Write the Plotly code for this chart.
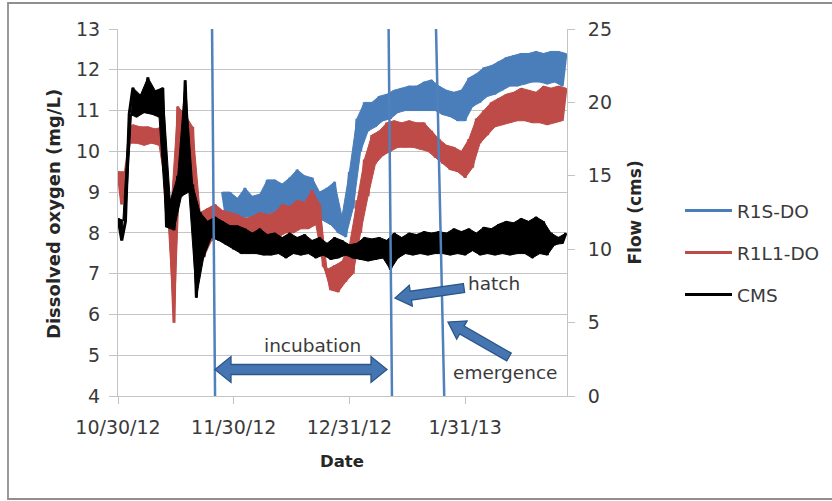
import math
import pandas as pd
import plotly.graph_objects as go

# ---------------- data ----------------
# Each series is a daily-cycling signal: upper envelope on even days, lower envelope on odd days.

# R1S-DO (mg/L)
r1s_start = "2012-11-27"
r1s_hi = [9.0, 9.0, 8.85, 9.1, 8.9, 8.95, 9.3, 9.3, 9.2, 9.35, 9.55, 9.4, 9.35, 9.0, 9.1, 9.25,
          8.4, 9.5, 10.8, 11.2, 11.2, 11.35, 11.4, 11.5, 11.55, 11.6, 11.6, 11.7, 11.75, 11.6,
          11.5, 11.45, 11.5, 11.8, 11.9, 12.05, 12.1, 12.2, 12.3, 12.35, 12.4, 12.4, 12.45,
          12.4, 12.45, 12.45, 12.4]
r1s_lo = [8.4, 8.4, 8.35, 8.4, 8.4, 8.4, 8.5, 8.5, 8.6, 8.6, 8.7, 8.7, 8.8, 8.3, 8.2, 8.0,
          7.9, 8.6, 10.0, 10.5, 10.6, 10.75, 10.8, 10.95, 11.0, 11.0, 11.0, 11.0, 11.0, 10.9,
          10.85, 10.75, 10.75, 11.1, 11.2, 11.35, 11.4, 11.5, 11.6, 11.6, 11.65, 11.7, 11.7,
          11.65, 11.7, 11.6]

# R1L1-DO (mg/L)
r1l1_start = "2012-10-30"
r1l1_hi = [9.5, 9.5, 10.65, 10.6, 10.6, 10.55, 10.6, 8.3, 11.1, 10.9, 10.6, 8.5, 8.6, 8.7,
           8.55, 8.5, 8.45, 8.35, 8.4, 8.5, 8.45, 8.5, 8.7, 8.65, 8.8, 8.75, 9.05, 8.7, 7.1,
           7.2, 7.3, 7.7, 8.8, 9.8, 10.4, 10.5, 10.7, 10.75, 10.7, 10.75, 10.7, 10.7, 10.5,
           10.3, 10.15, 10.1, 10.0, 10.3, 10.8, 11.0, 11.2, 11.3, 11.4, 11.45, 11.55, 11.5,
           11.45, 11.6, 11.55, 11.6, 11.55]
r1l1_lo = [8.7, 10.2, 10.2, 10.15, 10.2, 10.15, 9.0, 5.8, 10.5, 10.2, 7.5, 7.4, 7.8, 8.0,
           8.0, 7.95, 7.9, 7.9, 7.85, 7.9, 7.9, 7.9, 8.0, 8.0, 8.1, 8.1, 8.2, 7.2, 6.6, 6.55,
           6.8, 7.0, 8.0, 8.9, 9.7, 9.9, 10.0, 10.1, 10.1, 10.1, 10.05, 10.0, 9.85, 9.7, 9.55,
           9.5, 9.35, 9.6, 10.2, 10.4, 10.6, 10.65, 10.7, 10.75, 10.75, 10.7, 10.7, 10.65,
           10.7, 10.75]

# CMS flow (cms)
cms_start = "2012-10-30"
cms_hi = [12.1, 11.9, 21.0, 20.5, 21.7, 20.8, 21.0, 13.3, 15.0, 21.5, 14.4, 12.5, 11.9, 12.2,
          11.9, 11.6, 11.6, 11.4, 11.1, 11.4, 11.0, 11.1, 10.8, 11.1, 10.8, 11.0, 10.6, 10.8,
          10.4, 10.8, 10.6, 10.3, 10.4, 10.8, 10.7, 10.8, 10.6, 11.1, 10.8, 11.1, 11.0, 11.2,
          11.1, 11.2, 11.1, 11.4, 11.2, 11.4, 11.1, 11.5, 11.4, 11.7, 11.9, 11.8, 12.1, 11.9,
          12.2, 11.9, 11.1, 10.8, 11.1]
cms_lo = [10.6, 19.2, 19.0, 19.3, 19.2, 19.0, 11.5, 11.3, 13.6, 13.9, 6.7, 9.5, 10.8, 10.6,
          10.3, 10.0, 9.7, 9.7, 9.7, 9.6, 9.6, 9.7, 9.4, 9.7, 9.6, 9.7, 9.4, 9.6, 9.3, 9.4,
          9.6, 9.4, 9.3, 9.2, 9.3, 9.4, 8.6, 9.4, 9.7, 9.6, 9.7, 9.6, 9.7, 9.7, 9.6, 9.7, 9.6,
          9.9, 9.6, 9.7, 9.6, 9.7, 9.6, 9.7, 9.7, 9.4, 9.7, 9.6, 10.3, 10.4]

# life-stage markers (slightly slanted lines: date at top, date at bottom)
event_top = ["2012-11-24 04:48", "2013-01-10 12:00", "2013-01-23 04:48"]
event_bottom = ["2012-11-25 00:00", "2013-01-11 09:36", "2013-01-25 09:36"]

x_tickvals = ["2012-10-30", "2012-11-30", "2012-12-31", "2013-01-31"]
x_ticktext = ["10/30/12", "11/30/12", "12/31/12", "1/31/13"]
x_range = ["2012-10-30", "2013-02-27 07:00"]

# ---------------- helpers ----------------
def envelopes(start, hi, lo):
    t0 = pd.Timestamp(start)
    hi_t = t0 + pd.to_timedelta([2 * i for i in range(len(hi))], unit="D")
    lo_t = t0 + pd.to_timedelta([2 * i + 1 for i in range(len(lo))], unit="D")
    return list(hi_t), list(lo_t)

def zigzag(start, hi, lo):
    hi_t, lo_t = envelopes(start, hi, lo)
    xs, ys = [], []
    for i, h in enumerate(hi):
        xs.append(hi_t[i]); ys.append(h)
        if i < len(lo):
            xs.append(lo_t[i]); ys.append(lo[i])
    return xs, ys

def band(start, hi, lo):
    hi_t, lo_t = envelopes(start, hi, lo)
    return hi_t + lo_t[::-1], list(hi) + list(lo)[::-1]

# plot area in pixels
L, R, T, B = 118, 567, 29, 396
W, H = 832, 501

def paper(x, y):
    return ((x - L) / (R - L), (B - y) / (B - T))

def block_arrow(p0, p1, shaft, head_w, head_len, double=False):
    (x0, y0), (x1, y1) = p0, p1
    dx, dy = x1 - x0, y1 - y0
    n = math.hypot(dx, dy)
    ux, uy = dx / n, dy / n
    nx, ny = -uy, ux
    def pt(bx, by, a, b):
        return (bx + ux * a + nx * b, by + uy * a + ny * b)
    pts = []
    if double:
        pts.append((x0, y0))
        pts.append(pt(x0, y0, head_len, head_w / 2))
        pts.append(pt(x0, y0, head_len, shaft / 2))
    else:
        pts.append(pt(x0, y0, 0, shaft / 2))
    pts.append(pt(x1, y1, -head_len, shaft / 2))
    pts.append(pt(x1, y1, -head_len, head_w / 2))
    pts.append((x1, y1))
    pts.append(pt(x1, y1, -head_len, -head_w / 2))
    pts.append(pt(x1, y1, -head_len, -shaft / 2))
    if double:
        pts.append(pt(x0, y0, head_len, -shaft / 2))
        pts.append(pt(x0, y0, head_len, -head_w / 2))
    else:
        pts.append(pt(x0, y0, 0, -shaft / 2))
    s = ""
    for i, (px, py) in enumerate(pts):
        X, Y = paper(px, py)
        s += ("M" if i == 0 else "L") + f"{X:.5f},{Y:.5f} "
    return s + "Z"

FONT = "DejaVu Sans"
TXT = "#3a3a3a"
GRID = "#c4c4c4"
BLUE = "#4a7ebb"
RED = "#be4b48"

fig = go.Figure()

series = [
    ("R1S-DO", r1s_start, r1s_hi, r1s_lo, BLUE, "y", "legend"),
    ("R1L1-DO", r1l1_start, r1l1_hi, r1l1_lo, RED, "y", "legend2"),
    ("CMS", cms_start, cms_hi, cms_lo, "#000000", "y2", "legend3"),
]
for name, start, hi, lo, color, yax, leg in series:
    bx, by = band(start, hi, lo)
    fig.add_trace(go.Scatter(x=bx, y=by, mode="lines", fill="toself", fillcolor=color,
                             line=dict(color=color, width=1), yaxis=yax, showlegend=False,
                             hoverinfo="skip"))
    zx, zy = zigzag(start, hi, lo)
    fig.add_trace(go.Scatter(x=zx, y=zy, mode="lines", name=name, yaxis=yax,
                             line=dict(color=color, width=3), legend=leg))

shapes = []
# outer chart border
bx0, by0 = paper(8, 499)
bx1, by1 = paper(833, 3)
shapes.append(dict(type="rect", xref="paper", yref="paper", x0=bx0, y0=by0, x1=bx1, y1=by1,
                   line=dict(color="#8f8f8f", width=1.8), layer="below"))
# event lines
for t, b in zip(event_top, event_bottom):
    shapes.append(dict(type="line", xref="x", yref="y", x0=t, y0=13, x1=b, y1=4,
                       line=dict(color="#4f81bd", width=2.5)))
# block arrows
arrow_style = dict(type="path", xref="paper", yref="paper", fillcolor="#4676b2",
                   line=dict(color="#2b5689", width=1.3))
shapes.append(dict(path=block_arrow((215, 369.5), (387, 369.5), 10, 26, 16, double=True), **arrow_style))
shapes.append(dict(path=block_arrow((464, 288), (395, 298), 9, 21, 16), **arrow_style))
shapes.append(dict(path=block_arrow((509, 357), (448, 322), 9, 21, 16), **arrow_style))

annotations = []
def label(text, px, py, size=18.5, bold=False, angle=0):
    X, Y = paper(px, py)
    annotations.append(dict(text=f"<b>{text}</b>" if bold else text, x=X, y=Y,
                            xref="paper", yref="paper", showarrow=False, textangle=angle,
                            xanchor="center", yanchor="middle",
                            font=dict(family=FONT, size=size,
                                      color="#262626" if bold else TXT)))

label("incubation", 312, 345)
label("hatch", 494, 283)
label("emergence", 505, 372)
label("Dissolved oxygen (mg/L)", 53, 214, size=18, bold=True, angle=-90)
label("Flow (cms)", 634, 212.5, size=17, bold=True, angle=-90)
label("Date", 342, 461, size=16.5, bold=True)

def legend_at(py):
    X, Y = paper(680, py)
    return dict(x=X, y=Y, xanchor="left", yanchor="middle", bgcolor="rgba(0,0,0,0)",
                font=dict(family=FONT, size=18.5, color=TXT), itemwidth=47)

tickfont = dict(family=FONT, size=19, color=TXT)
fig.update_layout(
    width=W, height=H,
    margin=dict(l=L, r=W - R, t=T, b=H - B, autoexpand=False),
    paper_bgcolor="white", plot_bgcolor="white",
    showlegend=True,
    legend=legend_at(211), legend2=legend_at(253), legend3=legend_at(295),
    shapes=shapes, annotations=annotations,
    font=dict(family=FONT, size=18, color=TXT),
    xaxis=dict(type="date", range=x_range, tickvals=x_tickvals, ticktext=x_ticktext,
               showgrid=False, showline=True, linecolor=GRID, linewidth=1,
               ticks="outside", ticklen=7, tickcolor=GRID, zeroline=False,
               ticklabelstandoff=7, tickfont=tickfont),
    yaxis=dict(range=[4, 13], dtick=1, showgrid=True, gridcolor=GRID, gridwidth=1,
               showline=True, linecolor=GRID, ticks="outside", ticklen=8, tickcolor=GRID,
               zeroline=False, ticklabelstandoff=5, tickfont=tickfont),
    yaxis2=dict(range=[0, 25], dtick=5, overlaying="y", side="right", showgrid=False,
                showline=True, linecolor=GRID, ticks="outside", ticklen=7, tickcolor=GRID,
                zeroline=False, ticklabelstandoff=9, tickfont=tickfont),
)

fig.write_html("out.html")
